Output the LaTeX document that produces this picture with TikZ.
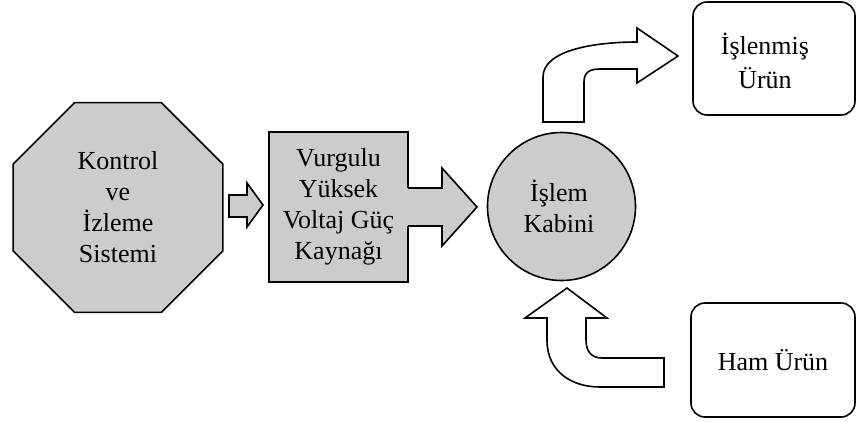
\documentclass[tikz,border=0pt]{standalone}
\usepackage{fontspec}
\setmainfont{Liberation Serif}
\usetikzlibrary{shapes.geometric}
\definecolor{boxgray}{RGB}{204,204,204}
\begin{document}
\begin{tikzpicture}[x=1pt,y=-1pt, line width=1.6pt, line join=miter,
  txt/.style={font=\fontsize{26}{31}\selectfont, align=center, text=black},
  grayshape/.style={fill=boxgray, draw=black},
  whitearrow/.style={fill=white, draw=black},
  roundbox/.style={draw=black, fill=white, rounded corners=14pt}]
\useasboundingbox (0,0) rectangle (857,421);

% octagon
\node[regular polygon, regular polygon sides=8, minimum size=227pt, inner sep=0pt, grayshape, txt] (ctrl) at (118,207.5) {Kontrol\\ve\\İzleme\\Sistemi};

% power supply box
\node[grayshape, minimum width=139pt, minimum height=150pt, inner sep=0pt, txt] (psu) at (338.5,207) {Vurgulu\\Yüksek\\Voltaj Güç\\Kaynağı};

% small arrow ctrl -> psu
\draw[grayshape] (229,195) -- (247,195) -- (247,183) -- (263,205) -- (247,227) -- (247,217) -- (229,217) -- cycle;

% big arrow psu -> cabin
\fill[boxgray] (406,188) -- (442,188) -- (442,168) -- (477,207) -- (442,246) -- (442,226) -- (406,226) -- cycle;
\draw (408,188) -- (442,188) -- (442,168) -- (477,207) -- (442,246) -- (442,226) -- (408,226);

% process cabin
\node[circle, grayshape, minimum size=148pt, inner sep=0pt] (cab) at (561.5,206.5) {};
\node[txt] (cabtxt) at (559,206) {İşlem\\Kabini};

% output box
\node[roundbox, minimum width=162pt, minimum height=113pt, inner sep=0pt] (out) at (774,58.5) {};
\node[txt] (outtxt) at (765,61) {İşlenmiş\\[3pt]Ürün};

% raw product box
\node[roundbox, minimum width=164pt, minimum height=114pt, inner sep=0pt, txt] (raw) at (773,360) {Ham Ürün};

% curved arrow cabin -> out
\draw[whitearrow] (543,122) -- (543,77) .. controls (543,50) and (595,42) .. (637,42) -- (637,28) -- (678,56) -- (637,83) -- (637,69) -- (600,69) .. controls (590,69) and (584,72) .. (584,82) -- (584,122) -- cycle;

% curved arrow raw -> cabin
\draw[whitearrow] (664,358) -- (602,358) .. controls (592,358) and (586,352) .. (586,340) -- (586,318) -- (607,318) -- (567,288) -- (525,318) -- (547,318) -- (547,340) .. controls (547,372) and (572,387) .. (600,387) -- (664,387) -- cycle;
\end{tikzpicture}
\end{document}
